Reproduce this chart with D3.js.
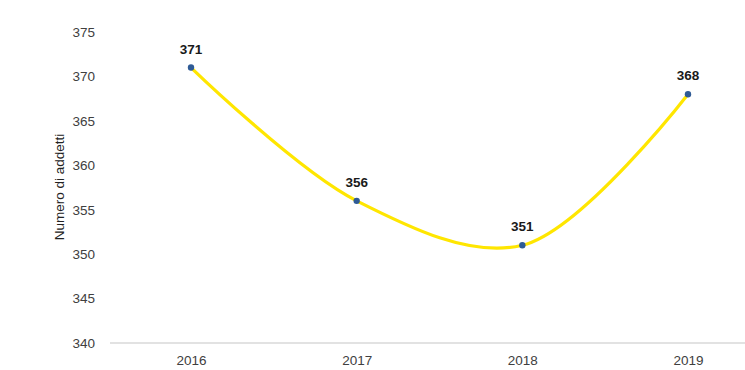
<!DOCTYPE html>
<html><head><meta charset="utf-8">
<script src="https://cdn.jsdelivr.net/npm/d3@7"></script>
<style>
body{margin:0;background:#fff;}
text{font-family:"Liberation Sans Narrow","Arial Narrow","Liberation Sans",Arial,sans-serif;}
</style></head>
<body><svg id="c" width="745" height="370"></svg>
<script>
const years = ["2016","2017","2018","2019"];
const values = [371,356,351,368];
const yTicks = [340,345,350,355,360,365,370,375];
const yTitle = "Numero di addetti";

const svg = d3.select("#c");
const x = d3.scalePoint().domain(years).range([191,688]);
const y = d3.scaleLinear().domain([340,375]).range([343,32]);

// baseline
svg.append("line").attr("x1",110).attr("x2",745).attr("y1",y(340)).attr("y2",y(340))
  .attr("stroke","#d9d9d9").attr("stroke-width",1.5);

// y tick labels
const yAxis = d3.axisLeft(y).tickValues(yTicks).tickSize(0).tickPadding(0);
const gy = svg.append("g").attr("transform","translate(95,0)").call(yAxis);
gy.select(".domain").remove();
gy.selectAll("text").attr("font-size",13.5).attr("fill","#404040")
  .style("font-family",'"Liberation Sans Narrow","Arial Narrow",sans-serif');

// x labels
const xAxis = d3.axisBottom(x).tickSize(0).tickPadding(0);
const gx = svg.append("g").attr("transform","translate(0,355)").call(xAxis);
gx.select(".domain").remove();
gx.selectAll("text").attr("font-size",13.5).attr("fill","#404040").attr("dy","0.71em")
  .style("font-family",'"Liberation Sans Narrow","Arial Narrow",sans-serif');

// y title
svg.append("text").attr("transform",`translate(64,187) rotate(-90)`)
  .attr("text-anchor","middle").attr("font-size",13.5).attr("fill","#222")
  .text(yTitle);

const data = years.map((d,i)=>({year:d,value:values[i]}));
const line = d3.line().x(d=>x(d.year)).y(d=>y(d.value)).curve(d3.curveCatmullRom.alpha(0.5));
svg.append("path").datum(data).attr("d",line).attr("fill","none")
  .attr("stroke","#FFE600").attr("stroke-width",3.2);

svg.selectAll("circle.pt").data(data).enter().append("circle")
  .attr("cx",d=>x(d.year)).attr("cy",d=>y(d.value)).attr("r",3.2).attr("fill","#2F5B96");

svg.selectAll("text.lbl").data(data).enter().append("text")
  .attr("x",d=>x(d.year)).attr("y",d=>y(d.value)-14)
  .attr("text-anchor","middle").attr("font-size",13.5).attr("font-weight","bold").attr("fill","#1a1a1a")
  .text(d=>d.value);
</script></body></html>
